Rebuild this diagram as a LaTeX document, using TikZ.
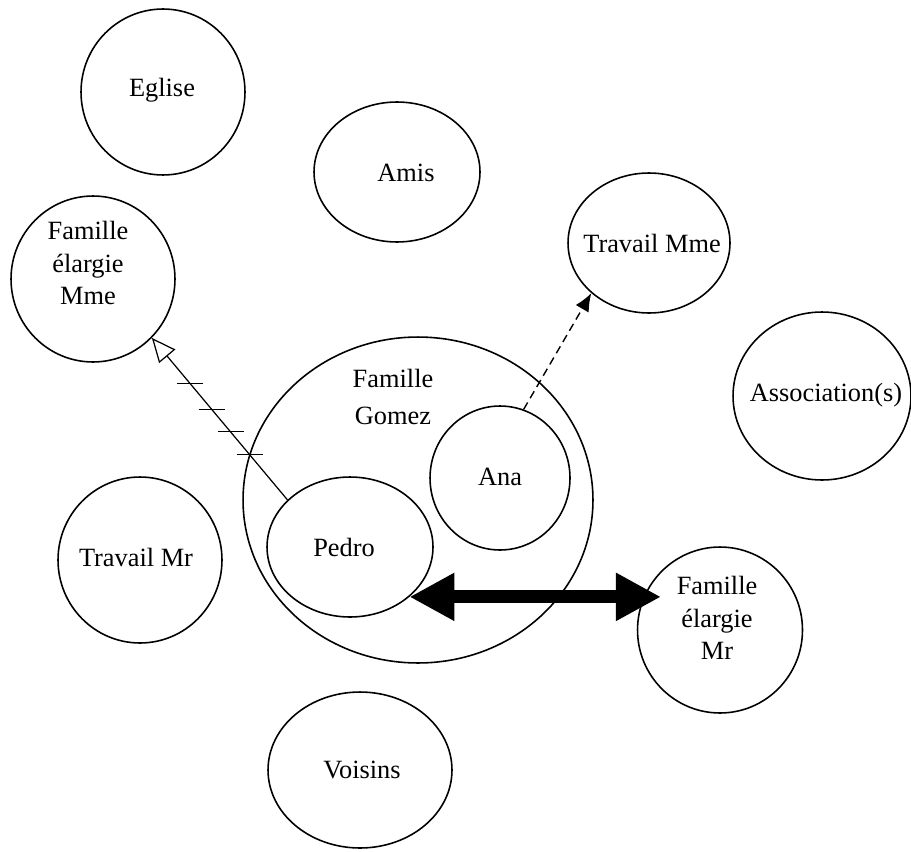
\documentclass[tikz,border=0pt]{standalone}
\usepackage{fontspec}
\setmainfont{Liberation Serif}
\usetikzlibrary{shapes.geometric, arrows.meta, calc}

\tikzset{
  bulle/.style={draw, ellipse, inner sep=0pt, line width=0.9pt},
  txt/.style={font=\fontsize{15}{18.5}\selectfont, align=center, inner sep=0pt},
  fin/.style={line width=0.7pt},
}

\begin{document}
\begin{tikzpicture}[x=0.02cm, y=-0.02cm]
        \useasboundingbox (0,0) rectangle (911,851);
        % les cercles
        \node[bulle, minimum width=3.28cm, minimum height=3.32cm] (eglise) at (163,92) {};
        \node[bulle, minimum width=3.32cm, minimum height=2.8cm] (amis) at (397,172) {};
        \node[bulle, minimum width=3.28cm, minimum height=3.32cm] (femme) at (93,279) {};
        \node[bulle, minimum width=3.24cm, minimum height=2.8cm] (travmme) at (649,243) {};
        \node[bulle, minimum width=3.56cm, minimum height=3.36cm] (assoc) at (822,396) {};
        \node[bulle, minimum width=7cm, minimum height=6.52cm] (gomez) at (418,500) {};
        \node[bulle, minimum width=2.8cm, minimum height=2.88cm] (ana) at (500,478) {};
        \node[bulle, minimum width=3.32cm, minimum height=2.8cm] (pedro) at (350,547) {};
        \node[bulle, minimum width=3.28cm, minimum height=3.32cm] (travmr) at (140,560) {};
        \node[bulle, minimum width=3.3cm, minimum height=3.32cm] (femr) at (720,630) {};
        \node[bulle, minimum width=3.68cm, minimum height=3.12cm] (voisins) at (360,770) {};
        % les textes
        \node[txt] (eglisetxt) at (162,90) {Eglise};
        \node[txt] (amistxt) at (406,173) {Amis};
        \node[txt] (femmetxt) at (88,263) {Famille\\élargie\\Mme};
        \node[txt] (travmmetxt) at (652,243) {Travail Mme};
        \node[txt] (assoctxt) at (826,395) {Association(s)};
        \node[txt, font=\fontsize{15}{21}\selectfont] (gomeztxt) at (393,397) {Famille\\Gomez};
        \node[txt] (anatxt) at (500,477) {Ana};
        \node[txt] (pedrotxt) at (344,547) {Pedro};
        \node[txt] (travmrtxt) at (136,557) {Travail Mr};
        \node[txt] (femrtxt) at (717,618) {Famille\\élargie\\Mr};
        \node[txt] (voisinstxt) at (362,770) {Voisins};
        % les liens
        \draw[fin, -{Triangle[open, length=0.48cm, width=0.42cm]}] (pedro.143) -- (femme.-45);
        \foreach \p in {0.28,0.42,0.56,0.72}
            \draw[fin] ($(pedro.143)!\p!(femme.-45)$) ++(-13,0) -- ++(26,0);
        \draw[line width=0.8pt, dash pattern=on 0.16cm off 0.1cm, -{Latex[length=0.36cm, width=0.3cm]}] (ana.71) -- (travmme.221);
        \draw[line width=0.26cm, {Triangle[length=0.9cm, width=0.9cm]}-{Triangle[length=0.9cm, width=0.9cm]}] (pedro.-40) -- (pedro.-40 -| femr.135);
    \end{tikzpicture}
\end{document}
